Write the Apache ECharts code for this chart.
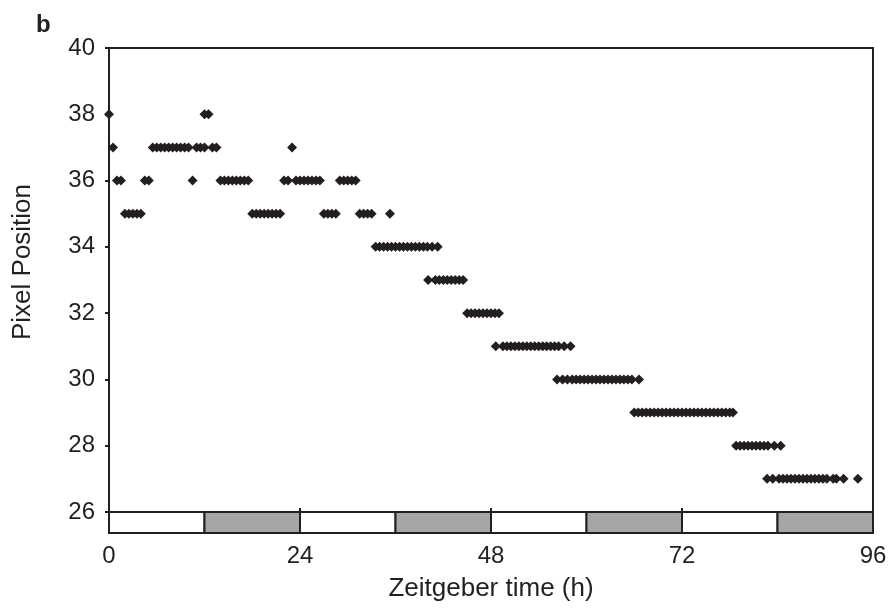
<!DOCTYPE html>
<html><head><meta charset="utf-8">
<script src="https://cdn.jsdelivr.net/npm/echarts@6/dist/echarts.min.js"></script>
<style>html,body{margin:0;padding:0;background:#fff}#c{width:891px;height:610px}</style>
</head><body><div id="c"></div>
<script>
// Zeitgeber time (h) of each sample
const hours = [
  0, 0.5, 1, 1.5, 2, 2.5, 3, 3.5, 4, 4.5, 5,
  5.5, 6, 6.5, 7, 7.5, 8, 8.5, 9, 9.5, 10, 10.5, 11, 11.5, 12, 12.5, 12, 13, 13.5,
  14, 14.5, 15, 15.5, 16, 16.5, 17, 17.5,
  18, 18.5, 19, 19.5, 20, 20.5, 21, 21.5,
  22, 22.5, 23, 23.5, 24, 24.5, 25, 25.5, 26, 26.5,
  27, 27.5, 28, 28.5,
  29, 29.5, 30, 30.5, 31,
  31.5, 32, 32.5, 33,
  33.5, 34, 34.5, 35, 35.3, 35.5, 36, 36.5, 37, 37.5, 38, 38.5, 39, 39.5, 40, 40.6, 41.3,
  40.1, 41, 41.5, 42, 42.5, 43, 43.5, 44, 44.5,
  45, 45.5, 46, 46.5, 47, 47.5, 48, 48.5, 49,
  48.6, 49.5, 50, 50.5, 51, 51.5, 52, 52.5, 53, 53.5, 54, 54.5, 55, 55.5, 56, 56.5, 57.2, 58,
  56.3, 57, 57.6, 58.2, 58.7, 59.2, 59.7, 60.2, 60.7, 61.2, 61.7, 62.2, 62.7, 63.2, 63.7, 64.2, 64.7, 65.2, 65.7, 66.6,
  66, 66.5, 67, 67.5, 68, 68.5, 69, 69.5, 70, 70.5, 71, 71.5, 72, 72.5, 73, 73.5, 74, 74.5, 75, 75.5, 76, 76.5, 77, 77.5, 78, 78.4,
  78.8, 79.3, 79.8, 80.3, 80.8, 81.3, 81.8, 82.3, 82.8, 83.6, 84.4,
  82.7, 83.4, 84.2, 84.7, 85.2, 85.7, 86.2, 86.7, 87.2, 87.7, 88.2, 88.7, 89.2, 89.7, 90.2, 91, 91.4, 92.3, 94.1
];
// Pixel position of each sample
const pixelPos = [
  38, 37, 36, 36, 35, 35, 35, 35, 35, 36, 36,
  37, 37, 37, 37, 37, 37, 37, 37, 37, 37, 36, 37, 37, 38, 38, 37, 37, 37,
  36, 36, 36, 36, 36, 36, 36, 36,
  35, 35, 35, 35, 35, 35, 35, 35,
  36, 36, 37, 36, 36, 36, 36, 36, 36, 36,
  35, 35, 35, 35,
  36, 36, 36, 36, 36,
  35, 35, 35, 35,
  34, 34, 34, 34, 35, 34, 34, 34, 34, 34, 34, 34, 34, 34, 34, 34, 34,
  33, 33, 33, 33, 33, 33, 33, 33, 33,
  32, 32, 32, 32, 32, 32, 32, 32, 32,
  31, 31, 31, 31, 31, 31, 31, 31, 31, 31, 31, 31, 31, 31, 31, 31, 31, 31,
  30, 30, 30, 30, 30, 30, 30, 30, 30, 30, 30, 30, 30, 30, 30, 30, 30, 30, 30, 30,
  29, 29, 29, 29, 29, 29, 29, 29, 29, 29, 29, 29, 29, 29, 29, 29, 29, 29, 29, 29, 29, 29, 29, 29, 29, 29,
  28, 28, 28, 28, 28, 28, 28, 28, 28, 28, 28,
  27, 27, 27, 27, 27, 27, 27, 27, 27, 27, 27, 27, 27, 27, 27, 27, 27, 27, 27
];
// Light/dark bar: start, end (h), dark flag
const ldStart = [0, 12, 24, 36, 48, 60, 72, 84];
const ldEnd   = [12, 24, 36, 48, 60, 72, 84, 96];
const ldDark  = [0, 1, 0, 1, 0, 1, 0, 1];
const xTicks = [0, 24, 48, 72, 96];
const yTicks = [26, 28, 30, 32, 34, 36, 38, 40];

const INK = '#231f20';
const FONT = '"Liberation Sans", Arial, sans-serif';
const pts = hours.map((h, i) => [h, pixelPos[i]]);
const ld = ldStart.map((s, i) => [s, ldEnd[i], ldDark[i]]);

const chart = echarts.init(document.getElementById('c'), null, {renderer: 'canvas'});
chart.setOption({
  backgroundColor: '#fff',
  animation: false,
  title: {text: 'b', left: 31, top: 8, textStyle: {fontFamily: FONT, fontWeight: 'bold', fontSize: 24, color: INK}},
  grid: [
    {left: 109, top: 48, width: 764, height: 464, show: true, borderColor: INK, borderWidth: 2, backgroundColor: 'transparent'},
    {left: 109, top: 512, width: 764, height: 21, show: false}
  ],
  xAxis: [
    {gridIndex: 0, type: 'value', min: 0, max: 96, interval: 24,
     axisLine: {show: true, lineStyle: {color: INK, width: 2}},
     axisTick: {show: true, inside: true, length: 4, lineStyle: {color: INK, width: 2}},
     axisLabel: {show: false}, splitLine: {show: false}},
    {gridIndex: 1, type: 'value', min: 0, max: 96, interval: 24,
     axisLine: {show: false}, axisTick: {show: false}, splitLine: {show: false},
     axisLabel: {show: true, fontFamily: FONT, fontSize: 24, color: INK, margin: 11,
       formatter: v => xTicks.includes(v) ? String(v) : ''},
     name: 'Zeitgeber time (h)', nameLocation: 'middle', nameGap: 43,
     nameTextStyle: {fontFamily: FONT, fontSize: 26, color: INK}}
  ],
  yAxis: [
    {gridIndex: 0, type: 'value', min: 26, max: 40, interval: 2,
     axisLine: {show: true, lineStyle: {color: INK, width: 2}},
     axisTick: {show: true, inside: false, length: 4, lineStyle: {color: INK, width: 2}},
     axisLabel: {fontFamily: FONT, fontSize: 24, color: INK, margin: 14,
       formatter: v => yTicks.includes(v) ? String(v) : ''},
     splitLine: {show: false},
     name: 'Pixel Position', nameLocation: 'middle', nameGap: 73,
     nameTextStyle: {fontFamily: FONT, fontSize: 26, color: INK, padding: [0, 0, 0, 36]}},
    {gridIndex: 1, type: 'value', min: 0, max: 1, show: false}
  ],
  series: [
    {type: 'scatter', xAxisIndex: 0, yAxisIndex: 0, data: pts,
     symbol: 'diamond', symbolSize: [10, 10], itemStyle: {color: INK, opacity: 1}},
    {type: 'custom', xAxisIndex: 1, yAxisIndex: 1, data: ld,
     encode: {x: [0, 1]},
     renderItem: function (params, api) {
       const a = api.coord([api.value(0), 1]);
       const b = api.coord([api.value(1), 0]);
       return {type: 'rect', shape: {x: a[0], y: a[1], width: b[0] - a[0], height: b[1] - a[1]},
         style: {fill: api.value(2) === 1 ? '#a6a6a6' : '#ffffff', stroke: INK, lineWidth: 2}};
     }}
  ]
});
</script></body></html>
